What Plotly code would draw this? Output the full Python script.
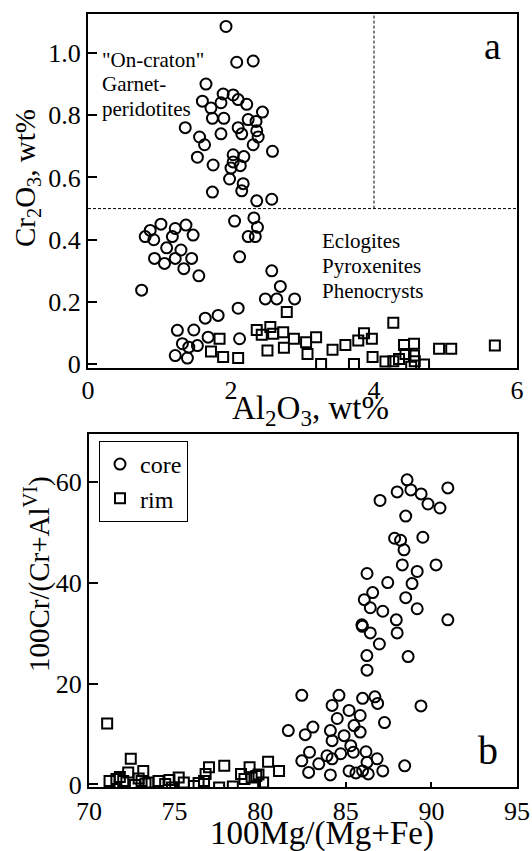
import plotly.graph_objects as go

# ---------- Panel a data: Al2O3 (x) vs Cr2O3 (y) ----------
a_core_x = [1.93, 2.08, 2.31, 1.65, 1.60, 1.72, 1.89, 2.03, 2.10, 2.22, 1.86, 2.44,
            1.36, 1.56, 1.63, 1.74, 1.90, 1.86, 2.10, 2.15, 2.24, 2.35, 2.36, 2.38,
            2.31, 2.58, 1.53, 1.75, 2.03, 2.18, 2.03, 2.13, 2.00, 1.98, 2.17, 2.15,
            1.74, 2.36, 2.57,
            2.05, 2.32, 2.37, 2.24, 2.34, 2.12,
            0.80, 0.87, 1.02, 0.92, 1.22, 1.18, 1.37, 1.47, 1.10, 1.30, 0.93, 1.07,
            1.22, 1.34, 1.45, 1.55, 0.75,
            2.57, 2.69, 2.48, 2.64, 2.89, 2.10, 1.64, 1.82, 1.25, 1.48, 1.32, 1.68,
            2.12, 1.41, 1.53, 1.22, 1.39]
a_core_y = [1.085, 0.97, 0.974, 0.90, 0.845, 0.823, 0.868, 0.865, 0.85, 0.835, 0.84, 0.81,
            0.76, 0.73, 0.705, 0.79, 0.79, 0.74, 0.76, 0.74, 0.786, 0.78, 0.75, 0.73,
            0.705, 0.684, 0.665, 0.64, 0.673, 0.667, 0.65, 0.638, 0.63, 0.595, 0.58, 0.557,
            0.553, 0.525, 0.53,
            0.46, 0.47, 0.44, 0.41, 0.41, 0.345,
            0.41, 0.43, 0.45, 0.40, 0.436, 0.41, 0.447, 0.415, 0.374, 0.367, 0.34, 0.324,
            0.34, 0.307, 0.34, 0.284, 0.238,
            0.30, 0.25, 0.21, 0.21, 0.21, 0.18, 0.148, 0.157, 0.109, 0.11, 0.066, 0.087,
            0.082, 0.055, 0.06, 0.028, 0.02]

a_rim_x = [2.78, 2.36, 2.55, 2.43, 2.59, 2.73, 1.84, 1.72, 1.89, 2.10, 2.51, 2.74,
           2.88, 3.05, 3.19, 3.07, 3.26, 3.42, 3.60, 3.72, 3.78, 3.86, 3.97, 3.98,
           4.16, 4.27, 4.27, 4.35, 4.42, 4.56, 4.44, 4.56, 4.52, 4.57, 4.70, 4.91,
           5.08, 5.69]
a_rim_y = [0.168, 0.11, 0.12, 0.095, 0.098, 0.103, 0.082, 0.041, 0.023, 0.02, 0.044, 0.053,
           0.082, 0.071, 0.087, 0.033, 0.001, 0.047, 0.062, 0.001, 0.076, 0.10, 0.082, 0.023,
           0.009, 0.133, 0.01, 0.017, 0.062, 0.066, 0.033, 0.028, -0.008, 0.01, -0.001, 0.05,
           0.05, 0.06]

# ---------- Panel b data: 100Mg/(Mg+Fe) (x) vs 100Cr/(Cr+AlVI) (y) ----------
b_core_x = [88.58, 88.0, 88.8, 87.0, 89.4, 89.8, 90.5, 90.96, 88.5, 87.85, 88.2, 89.5,
            88.4, 88.3, 89.17, 90.27, 86.24, 87.45, 88.87, 86.57, 86.08, 88.5, 86.43, 87.16,
            89.17, 87.95, 90.96, 85.94, 85.97, 86.43, 88.0, 86.96, 86.23, 88.64, 86.24,
            82.43, 84.6, 84.2, 85.19, 85.98, 86.7, 86.86, 89.39, 84.5, 85.84, 87.26, 85.48,
            84.1, 81.64, 83.08, 82.63, 85.84, 84.9, 84.2, 85.29, 82.88, 86.18, 83.9, 84.7,
            85.44, 82.43, 83.42, 84.2, 86.83, 86.24, 88.44, 82.83, 84.1, 85.19, 85.59, 85.98,
            86.31, 87.16]
b_core_y = [60.5, 58.1, 58.5, 56.4, 57.7, 55.7, 54.9, 58.9, 53.3, 48.9, 48.5, 49.1,
            46.6, 43.6, 42.3, 43.6, 41.9, 40.1, 39.9, 38.1, 36.7, 37.1, 35.1, 34.4,
            34.9, 32.7, 32.7, 31.7, 31.4, 30.1, 30.1, 27.9, 25.6, 25.4, 22.7,
            17.7, 17.7, 15.7, 14.7, 17.1, 17.4, 16.1, 15.6, 13.1, 13.7, 12.3, 11.7,
            10.7, 10.7, 11.4, 9.9, 10.4, 9.7, 8.7, 7.7, 6.4, 6.5, 5.7, 6.1,
            6.4, 4.7, 4.1, 5.1, 5.1, 4.4, 3.7, 2.4, 1.9, 2.7, 2.3, 2.7,
            2.1, 2.7]

b_rim_x = [71.06, 72.44, 72.29, 73.17, 71.2, 71.6, 72.0, 72.68, 73.07, 73.47, 74.06, 74.45,
           74.85, 75.24, 75.54, 76.13, 76.72, 77.01, 76.81, 77.6, 77.9, 78.4, 78.88, 79.38,
           79.08, 79.5, 79.77, 80.17, 80.46, 81.1, 71.8, 72.9, 73.3, 74.7, 76.4, 79.9]
b_rim_y = [12.1, 5.1, 2.4, 2.7, 0.7, 1.1, 0.7, -0.1, 0.7, 0.4, 0.7, 0.1,
           -0.6, 1.4, 0.4, -0.3, 0.7, 3.4, 2.1, -0.6, 3.7, -0.4, 2.1, 3.4,
           1.1, 1.4, 1.7, 0.4, 4.5, 2.7, 1.5, 1.2, 0.2, 0.9, 0.3, 2.0]

a_xticks = [0, 2, 4, 6]
a_yticks = [0, 0.2, 0.4, 0.6, 0.8, 1.0]
a_yticklabels = ["0", "0.2", "0.4", "0.6", "0.8", "1.0"]
b_xticks = [70, 75, 80, 85, 90, 95]
b_yticks = [0, 20, 40, 60]

a_label_lines = ['"On-craton"', "Garnet-", "peridotites"]
a_field_lines = ["Eclogites", "Pyroxenites", "Phenocrysts"]

FONT = "Liberation Serif"
W, H = 532, 851

circ = dict(symbol="circle-open", size=11, color="black", line=dict(width=2, color="black"))
sq = dict(symbol="square-open", size=10, color="black", line=dict(width=2, color="black"))

fig = go.Figure()
fig.add_trace(go.Scatter(x=a_core_x, y=a_core_y, mode="markers", marker=circ,
                         xaxis="x", yaxis="y", showlegend=False))
fig.add_trace(go.Scatter(x=a_rim_x, y=a_rim_y, mode="markers", marker=sq,
                         xaxis="x", yaxis="y", showlegend=False))
fig.add_trace(go.Scatter(x=b_core_x, y=b_core_y, mode="markers", marker=circ, name="core",
                         xaxis="x2", yaxis="y2"))
fig.add_trace(go.Scatter(x=b_rim_x, y=b_rim_y, mode="markers", marker=sq, name="rim",
                         xaxis="x2", yaxis="y2"))

axcommon = dict(showline=True, linewidth=2, linecolor="black", mirror=True,
                showgrid=False, zeroline=False, automargin=False,
                tickfont=dict(family=FONT, size=26, color="black"))


def px(x):
    return x / W


def py(y):
    return 1 - y / H


XT = dict(family=FONT, size=33, color="black")
YT = dict(family=FONT, size=29, color="black")
LBL = dict(family=FONT, size=21, color="black")
DASH = dict(color="black", width=1, dash="3px,2px")

annotations = [
    # axis titles
    dict(text="Al<sub>2</sub>O<sub>3</sub>, wt%", xref="paper", yref="paper",
         x=px(310), y=py(411), xanchor="center", yanchor="middle", showarrow=False, font=XT),
    dict(text="Cr<sub>2</sub>O<sub>3</sub>, wt%", xref="paper", yref="paper",
         x=px(27), y=py(178), xanchor="center", yanchor="middle", showarrow=False,
         textangle=-90, font=YT),
    dict(text="100Mg/(Mg+Fe)", xref="paper", yref="paper",
         x=px(322), y=py(833), xanchor="center", yanchor="middle", showarrow=False, font=XT),
    dict(text="100Cr/(Cr+Al<sup>VI</sup>)", xref="paper", yref="paper",
         x=px(37), y=py(574), xanchor="center", yanchor="middle", showarrow=False,
         textangle=-90, font=YT),
    # panel letters
    dict(text="a", xref="paper", yref="paper", x=px(503), y=py(46), xanchor="right",
         yanchor="middle", showarrow=False, font=dict(family=FONT, size=38)),
    dict(text="b", xref="paper", yref="paper", x=px(500), y=py(750), xanchor="right",
         yanchor="middle", showarrow=False, font=dict(family=FONT, size=40)),
]
for i, t in enumerate(a_label_lines):
    annotations.append(dict(text=t, xref="paper", yref="paper", x=px(100), y=py(60 + 24.5 * i),
                            xanchor="left", yanchor="middle", showarrow=False, font=LBL))
for i, t in enumerate(a_field_lines):
    annotations.append(dict(text=t, xref="paper", yref="paper", x=px(320), y=py(241 + 25 * i),
                            xanchor="left", yanchor="middle", showarrow=False, font=LBL))

fig.update_layout(
    width=W, height=H,
    margin=dict(l=0, r=0, t=0, b=0),
    paper_bgcolor="white", plot_bgcolor="white",
    font=dict(family=FONT, color="black"),
    xaxis=dict(domain=[px(88), px(517)], anchor="y", range=[0, 6], tickvals=a_xticks,
               ticks="", ticklabelstandoff=-2, **axcommon),
    yaxis=dict(domain=[py(368), py(14)], anchor="x", range=[-0.012, 1.125], tickvals=a_yticks,
               ticktext=a_yticklabels, ticks="inside", ticklen=9, tickwidth=2, tickcolor="black",
               ticklabelstandoff=0, **axcommon),
    xaxis2=dict(domain=[px(89), px(517)], anchor="y2", range=[70, 95], tickvals=b_xticks,
                ticks="inside", ticklen=5, tickwidth=2, tickcolor="black",
                ticklabelstandoff=0, **axcommon),
    yaxis2=dict(domain=[py(787), py(434)], anchor="x2", range=[-0.5, 69.6], tickvals=b_yticks,
                ticks="inside", ticklen=9, tickwidth=2, tickcolor="black", ticklabelstandoff=0,
                **axcommon),
    legend=dict(x=px(99), y=py(441), xanchor="left", yanchor="top",
                bordercolor="black", borderwidth=1, bgcolor="white",
                font=dict(family=FONT, size=24, color="black"),
                itemwidth=30, tracegroupgap=0),
    shapes=[
        dict(type="line", xref="x", yref="y", x0=0, x1=6, y0=0.5, y1=0.5, line=DASH),
        dict(type="line", xref="x", yref="y", x0=4, x1=4, y0=0.5, y1=1.125, line=DASH),
    ],
    annotations=annotations,
)

fig.write_html("out.html", config={"displayModeBar": False},
               post_script="document.body.style.margin='0';document.body.style.overflow='hidden';")
